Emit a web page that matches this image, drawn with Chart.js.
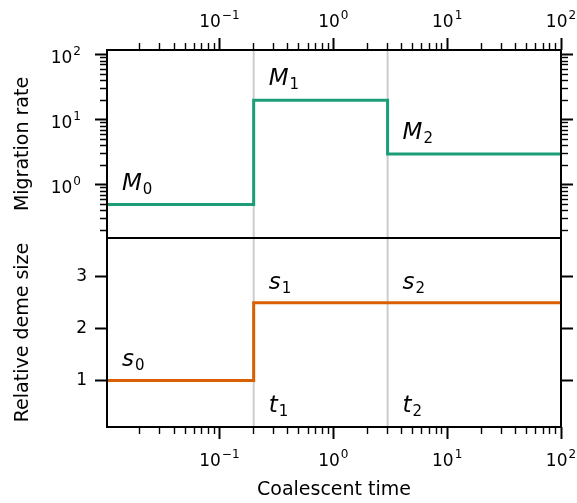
<!DOCTYPE html>
<html><head><meta charset="utf-8">
<script src="https://cdn.jsdelivr.net/npm/chart.js@4"></script>
<style>
html,body{margin:0;padding:0;background:#fff;}
#wrap{position:relative;width:577px;height:503px;overflow:hidden;}
canvas{position:absolute;left:0;}
</style>
</head><body>
<div id="wrap">
<canvas id="c1" width="577" height="240" style="top:0px"></canvas>
<canvas id="c2" width="577" height="267" style="top:236px"></canvas>
</div>
<script>
// ---- data ----
const X_MIN = 0.0103, X_MAX = 100;
const breakTimes = [0.2, 3];
const migrationRates = [0.5, 20, 3];
const demeSizes = [1, 2.5, 2.5];
const migNames = ['M', 'M', 'M'];
const sizeNames = ['s', 's', 's'];
const timeNames = ['t', 't'];
const subscripts = ['0', '1', '2'];
const timeSubscripts = ['1', '2'];
const xMajorTicks = [0.1, 1, 10, 100];
const xTickExponents = ['\u22121', '0', '1', '2'];
const MIG_MIN = 0.153, MIG_MAX = 119;
const migMajorTicks = [1, 10, 100];
const migTickExponents = ['0', '1', '2'];
const SIZE_MIN = 0.1, SIZE_MAX = 3.75;
const sizeTicks = [1, 2, 3];
const sizeTickLabels = ['1', '2', '3'];
const xTitle = 'Coalescent time';
const migTitle = 'Migration rate';
const sizeTitle = 'Relative deme size';

// ---- style ----
const FONT = 'DejaVu Sans';
const GREEN = '#1b9e77', ORANGE = '#d95f02', GRAY = '#cccccc';
const MAJ_LEN = 12, MIN_LEN = 7;

function logTicks(min, max) {
  const out = [];
  for (let e = Math.floor(Math.log10(min)); e <= Math.ceil(Math.log10(max)); e++) {
    for (let k = 1; k <= 9; k++) {
      const v = parseFloat((k * Math.pow(10, e)).toPrecision(6));
      if (v >= min * 0.9999 && v <= max * 1.0001) out.push(v);
    }
  }
  return out;
}
function isDecade(v) { const l = Math.log10(v); return Math.abs(l - Math.round(l)) < 1e-9; }
function labelFrom(majors, labels, v) {
  for (let i = 0; i < majors.length; i++) if (Math.abs(majors[i] - v) / majors[i] < 1e-6) return labels[i];
  return '';
}
function stepPoints(values) {
  const pts = [{x: X_MIN, y: values[0]}];
  breakTimes.forEach((t, i) => pts.push({x: t, y: values[i + 1]}));
  pts.push({x: X_MAX, y: values[values.length - 1]});
  return pts;
}
function vlineSets(yMin, yMax) {
  return breakTimes.map(t => ({
    data: [{x: t, y: yMin}, {x: t, y: yMax}],
    borderColor: GRAY, borderWidth: 2, pointRadius: 0, order: 5
  }));
}
function gridOpts(logScale, outerFirst) {
  return {
    display: true, drawOnChartArea: false, drawTicks: true, tickLength: MAJ_LEN,
    tickColor: '#000',
    tickWidth: c => (!logScale || isDecade(c.tick.value)) ? 2 : 1.4,
    tickBorderDash: c => (!logScale || isDecade(c.tick.value)) ? [] :
      (outerFirst ? [0, MAJ_LEN - MIN_LEN, MIN_LEN, 1000] : [MIN_LEN, 1000])
  };
}
function fixSize(w, h) {
  return s => {
    if (w !== null) s.width = w;
    if (h !== null) s.height = h;
    s.paddingLeft = 0; s.paddingRight = 0; s.paddingTop = 0; s.paddingBottom = 0;
  };
}
const tickFont = {family: FONT, size: 17};
const titleFont = {family: FONT, size: 19};

const framePlugin = {
  id: 'frame',
  afterDraw(chart) {
    const a = chart.chartArea, ctx = chart.ctx;
    ctx.save(); ctx.strokeStyle = '#000'; ctx.lineWidth = 2;
    ctx.strokeRect(a.left, a.top, a.right - a.left, a.bottom - a.top);
    ctx.restore();
  }
};
// power-of-ten tick labels "10^e" drawn at positions given by the library's scales
function drawPow(ctx, exp, x, baseY, align) {
  ctx.textBaseline = 'alphabetic'; ctx.textAlign = 'left'; ctx.fillStyle = '#000';
  ctx.font = '17px "' + FONT + '"';
  const wb = ctx.measureText('10').width;
  ctx.font = '12px "' + FONT + '"';
  const we = ctx.measureText(exp).width;
  const total = wb + 1 + we;
  const x0 = align === 'center' ? x - total / 2 : x - total;
  ctx.font = '17px "' + FONT + '"';
  ctx.fillText('10', x0, baseY);
  ctx.font = '12px "' + FONT + '"';
  ctx.fillText(exp, x0 + wb + 1, baseY - 8);
}
function powLabelPlugin(cfg) {
  return {
    id: 'powLabels',
    afterDraw(chart) {
      const ctx = chart.ctx, a = chart.chartArea;
      ctx.save();
      if (cfg.x) {
        const s = chart.scales.x;
        xMajorTicks.forEach((v, i) => {
          const px = s.getPixelForValue(v);
          const by = cfg.x === 'top' ? a.top - 23 : a.bottom + 39;
          drawPow(ctx, xTickExponents[i], px, by, 'center');
        });
      }
      if (cfg.y) {
        const s = chart.scales.y;
        migMajorTicks.forEach((v, i) => {
          const py = s.getPixelForValue(v);
          drawPow(ctx, migTickExponents[i], a.left - 26, py + 8, 'right');
        });
      }
      ctx.restore();
    }
  };
}
function drawMath(ctx, base, sub, x, y) {
  ctx.font = 'italic 23px "' + FONT + '"';
  ctx.textBaseline = 'alphabetic'; ctx.textAlign = 'left'; ctx.fillStyle = '#000';
  ctx.fillText(base, x, y);
  const w = ctx.measureText(base).width;
  ctx.font = '15px "' + FONT + '"';
  ctx.fillText(sub, x + w + 1, y + 4);
}
function labelPlugin(items) {
  return {
    id: 'mathLabels',
    afterDatasetsDraw(chart) {
      const xs = chart.scales.x, ys = chart.scales.y, ctx = chart.ctx;
      ctx.save();
      items().forEach(it => {
        const px = xs.getPixelForValue(it.x) + it.dx;
        const py = (it.y === null ? chart.chartArea.bottom : ys.getPixelForValue(it.y)) + it.dy;
        drawMath(ctx, it.base, it.sub, px, py);
      });
      ctx.restore();
    }
  };
}
const anchorsX = [X_MIN].concat(breakTimes);

// ---- top chart: migration rate ----
const migMinor = logTicks(MIG_MIN, MIG_MAX);
const xAll = logTicks(X_MIN * 1.01, X_MAX);
function yMigAxis(pos) {
  return {
    type: 'logarithmic', position: pos, min: MIG_MIN, max: MIG_MAX,
    afterBuildTicks: s => { s.ticks = migMinor.map(v => ({value: v})); },
    afterFit: fixSize(pos === 'left' ? 107 : 16, null),
    ticks: {autoSkip: false, color: '#000', font: tickFont, padding: 6, callback: () => ''},
    grid: gridOpts(true, pos === 'left'),
    border: {display: false},
    title: {display: pos === 'left', text: migTitle, color: '#000', font: titleFont, padding: {top: 11.5, bottom: 0}}
  };
}
new Chart(document.getElementById('c1'), {
  type: 'line',
  data: {
    datasets: [{
      data: stepPoints(migrationRates), stepped: true, borderColor: GREEN,
      borderWidth: 3, pointRadius: 0, order: 1
    }].concat(vlineSets(MIG_MIN, MIG_MAX))
  },
  options: {
    responsive: false, animation: false, devicePixelRatio: 1,
    layout: {padding: {top: 0, left: 0, right: 0, bottom: 2}},
    plugins: {legend: {display: false}, tooltip: {enabled: false}},
    scales: {
      x: {
        type: 'logarithmic', position: 'top', min: X_MIN, max: X_MAX,
        afterBuildTicks: s => { s.ticks = xAll.map(v => ({value: v})); },
        afterFit: fixSize(null, 50),
        ticks: {autoSkip: false, maxRotation: 0, minRotation: 0, color: '#000', font: tickFont, padding: 4, callback: () => ''},
        grid: gridOpts(true, true),
        border: {display: false}
      },
      y: yMigAxis('left'),
      yR: yMigAxis('right')
    }
  },
  plugins: [framePlugin, powLabelPlugin({x: 'top', y: true}), labelPlugin(() => migrationRates.map((m, i) => ({
    base: migNames[i], sub: subscripts[i], x: anchorsX[i], y: m, dx: 15, dy: -15
  })))]
});

// ---- bottom chart: relative deme size ----
function ySizeAxis(pos) {
  return {
    type: 'linear', position: pos, min: SIZE_MIN, max: SIZE_MAX,
    afterBuildTicks: s => { s.ticks = sizeTicks.map(v => ({value: v})); },
    afterFit: fixSize(pos === 'left' ? 107 : 16, null),
    ticks: {autoSkip: false, color: '#000', font: tickFont, padding: 8,
      callback: v => pos === 'left' ? labelFrom(sizeTicks, sizeTickLabels, v) : ''},
    grid: gridOpts(false, pos === 'left'),
    border: {display: false},
    title: {display: pos === 'left', text: sizeTitle, color: '#000', font: titleFont, padding: {top: 11.5, bottom: 0}}
  };
}
new Chart(document.getElementById('c2'), {
  type: 'line',
  data: {
    datasets: [{
      data: stepPoints(demeSizes), stepped: true, borderColor: ORANGE,
      borderWidth: 3, pointRadius: 0, order: 1
    }].concat(vlineSets(SIZE_MIN, SIZE_MAX))
  },
  options: {
    responsive: false, animation: false, devicePixelRatio: 1,
    layout: {padding: {top: 2, left: 0, right: 0, bottom: 0}},
    plugins: {legend: {display: false}, tooltip: {enabled: false}},
    scales: {
      x: {
        type: 'logarithmic', position: 'bottom', min: X_MIN, max: X_MAX,
        afterBuildTicks: s => { s.ticks = xAll.map(v => ({value: v})); },
        afterFit: fixSize(null, 76),
        ticks: {autoSkip: false, maxRotation: 0, minRotation: 0, color: '#000', font: tickFont, padding: 6, callback: () => ''},
        grid: gridOpts(true, false),
        border: {display: false},
        title: {display: true, text: xTitle, color: '#000', font: titleFont, padding: {top: 0, bottom: 1.6}}
      },
      y: ySizeAxis('left'),
      yR: ySizeAxis('right')
    }
  },
  plugins: [framePlugin, powLabelPlugin({x: 'bottom', y: false}), labelPlugin(() => {
    const a = demeSizes.map((s, i) => ({base: sizeNames[i], sub: subscripts[i], x: anchorsX[i], y: s, dx: 15, dy: -14}));
    const b = breakTimes.map((t, i) => ({base: timeNames[i], sub: timeSubscripts[i], x: t, y: null, dx: 15, dy: -15}));
    return a.concat(b);
  })]
});
</script>
</body></html>
